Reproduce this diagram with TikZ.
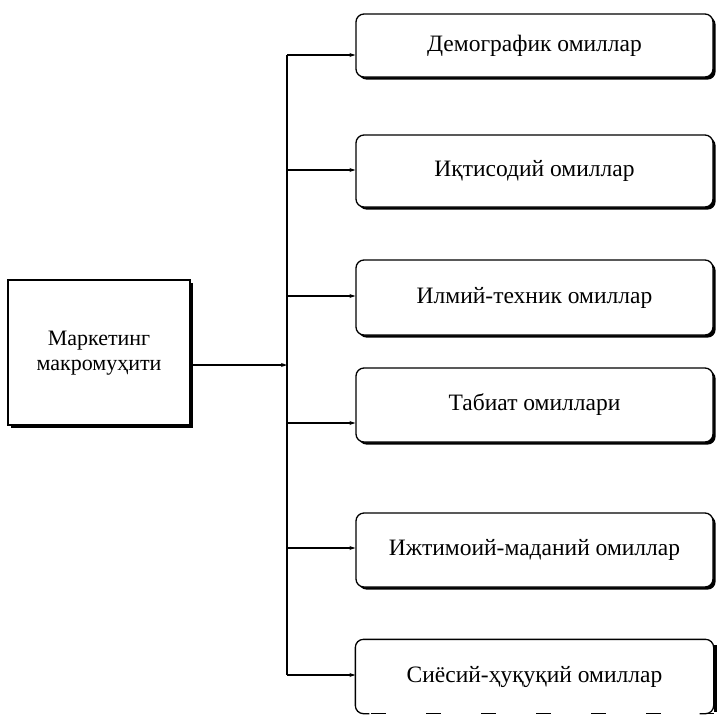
\documentclass[tikz,border=0pt]{standalone}
\usepackage{fontspec}
\setmainfont{Liberation Serif}
\usetikzlibrary{arrows.meta,shadows,calc}

\newcommand{\lowered}[2]{\raisebox{-#1}{#2}}

\begin{document}
\begin{tikzpicture}[
  x=1pt, y=-1pt,
  line width=1.3pt,
  font=\fontsize{23.5}{27}\selectfont,
  factor/.style={draw, rounded corners=8pt, fill=white, inner sep=0pt,
    minimum width=357pt, minimum height=#1, align=center,
    drop shadow={shadow xshift=2.6pt, shadow yshift=-2.6pt, fill=black, opacity=1}},
  mainbox/.style={draw, fill=white, inner sep=0pt, align=center,
    minimum width=182pt, minimum height=145pt,
    font=\fontsize{22}{25}\selectfont,
    drop shadow={shadow xshift=3pt, shadow yshift=-3pt, fill=black, opacity=1}},
  link/.style={-{Stealth[length=6pt,width=4pt]}, line width=1.2pt},
]
\useasboundingbox (0,0) rectangle (717,715);

% central block
\node[mainbox] (m) at (99,352.5)
  {\lowered{4pt}{\begin{tabular}{@{}c@{}}Маркетинг\\макромуҳити\end{tabular}}};

% factor blocks
\node[factor=63pt] (d1) at (534.5,45.5) {\lowered{4pt}{Демографик омиллар}};
\node[factor=72pt] (d2) at (534.5,171)  {\lowered{3pt}{Иқтисодий омиллар}};
\node[factor=75pt] (d3) at (534.5,297.5) {\lowered{2pt}{Илмий-техник омиллар}};
\node[factor=74pt] (d4) at (534.5,405)  {\lowered{6pt}{Табиат омиллари}};
\node[factor=74pt] (d5) at (534.5,550)  {Ижтимоий-маданий омиллар};
\node[inner sep=0pt, minimum width=357pt, minimum height=73pt] (d6) at (534.5,676.5)
  {\lowered{8pt}{Сиёсий-ҳуқуқий омиллар}};

% outline of the last block: solid top and sides, broken bottom edge
\draw[rounded corners=8pt]
  ($(d6.south west)+(14,0)$) -- (d6.south west) -- (d6.north west)
  -- (d6.north east) -- (d6.south east) -- ++(-14,0);
\draw[line width=2.6pt] ($(d6.north east)+(1.8,6)$) -- ($(d6.south east)+(1.8,-2)$);
\draw[dash pattern=on 15pt off 40pt] ($(d6.south west)+(16,0)$) -- (d6.south east);

% distribution bus
\coordinate (j)  at (287,365);
\coordinate (b1) at (287,55);
\coordinate (b2) at (287,170);
\coordinate (b3) at (287,296);
\coordinate (b4) at (287,423);
\coordinate (b5) at (287,548);
\coordinate (b6) at (287,675);

\draw[link] (m.east |- j) -- (j);
\draw (b1) -- (b6);
\draw[link] (b1) -- (d1.west |- b1);
\draw[link] (b2) -- (d2.west |- b2);
\draw[link] (b3) -- (d3.west |- b3);
\draw[link] (b4) -- (d4.west |- b4);
\draw[link] (b5) -- (d5.west |- b5);
\draw[link] (b6) -- (d6.west |- b6);
\end{tikzpicture}
\end{document}
